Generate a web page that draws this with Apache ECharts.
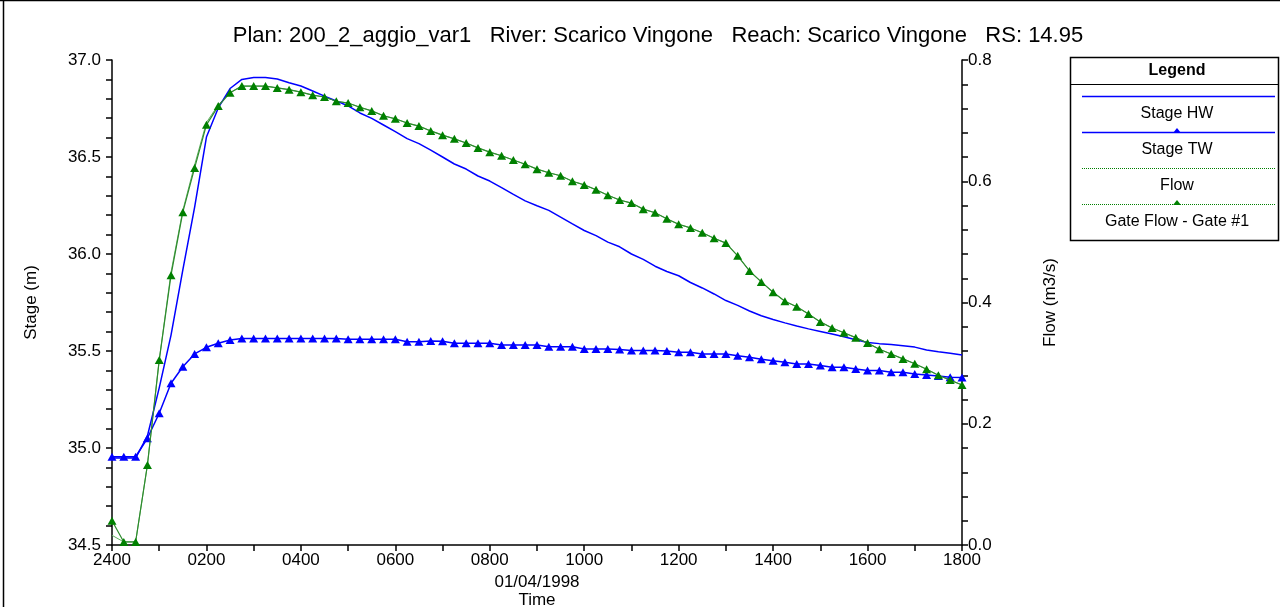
<!DOCTYPE html>
<html><head><meta charset="utf-8">
<script src="https://cdn.jsdelivr.net/npm/echarts@6/dist/echarts.min.js"></script>
<style>html,body{margin:0;padding:0;background:#fff}#c{width:1280px;height:607px}</style>
</head><body><div id="c"></div>
<script>
const hours = [0,0.25,0.5,0.75,1,1.25,1.5,1.75,2,2.25,2.5,2.75,3,3.25,3.5,3.75,4,4.25,4.5,4.75,5,5.25,5.5,5.75,6,6.25,6.5,6.75,7,7.25,7.5,7.75,8,8.25,8.5,8.75,9,9.25,9.5,9.75,10,10.25,10.5,10.75,11,11.25,11.5,11.75,12,12.25,12.5,12.75,13,13.25,13.5,13.75,14,14.25,14.5,14.75,15,15.25,15.5,15.75,16,16.25,16.5,16.75,17,17.25,17.5,17.75,18];
const stageHW = [34.948,34.948,34.948,35.062,35.31,35.582,35.918,36.242,36.603,36.753,36.853,36.900,36.910,36.910,36.902,36.883,36.866,36.840,36.814,36.789,36.763,36.727,36.699,36.665,36.631,36.595,36.569,36.535,36.500,36.464,36.438,36.402,36.376,36.342,36.307,36.274,36.249,36.225,36.190,36.155,36.121,36.095,36.061,36.037,36.000,35.972,35.937,35.910,35.888,35.853,35.825,35.794,35.760,35.735,35.706,35.682,35.662,35.645,35.629,35.614,35.601,35.588,35.573,35.558,35.544,35.538,35.533,35.527,35.520,35.505,35.496,35.488,35.479];
const stageTW = [34.955,34.955,34.955,35.050,35.179,35.334,35.419,35.485,35.519,35.540,35.557,35.565,35.565,35.565,35.565,35.565,35.565,35.565,35.565,35.565,35.560,35.560,35.560,35.560,35.560,35.548,35.548,35.552,35.550,35.540,35.540,35.540,35.540,35.531,35.531,35.531,35.531,35.522,35.522,35.522,35.510,35.510,35.510,35.508,35.502,35.502,35.502,35.500,35.493,35.493,35.485,35.485,35.485,35.476,35.468,35.458,35.450,35.442,35.433,35.433,35.425,35.416,35.416,35.407,35.399,35.399,35.391,35.391,35.382,35.376,35.371,35.365,35.363];
const gateFlow = [0.040,0.005,0.005,0.132,0.305,0.445,0.549,0.622,0.693,0.724,0.746,0.757,0.757,0.757,0.754,0.751,0.747,0.742,0.739,0.732,0.729,0.722,0.716,0.708,0.703,0.696,0.691,0.683,0.676,0.670,0.663,0.655,0.648,0.642,0.635,0.628,0.620,0.614,0.609,0.600,0.594,0.586,0.577,0.569,0.564,0.554,0.548,0.538,0.529,0.523,0.515,0.506,0.498,0.477,0.452,0.434,0.417,0.402,0.393,0.381,0.368,0.358,0.350,0.342,0.333,0.323,0.315,0.307,0.299,0.290,0.280,0.272,0.264];
const flow = [0.016,0.005,0.005,0.132,0.305,0.450,0.552,0.627,0.697,0.726,0.746,0.757,0.757,0.757,0.754,0.751,0.747,0.742,0.739,0.732,0.729,0.722,0.716,0.708,0.703,0.696,0.691,0.683,0.676,0.670,0.663,0.655,0.648,0.642,0.635,0.628,0.620,0.614,0.609,0.600,0.594,0.586,0.577,0.569,0.564,0.554,0.548,0.538,0.529,0.523,0.515,0.506,0.498,0.477,0.452,0.434,0.417,0.402,0.393,0.381,0.368,0.358,0.350,0.342,0.333,0.323,0.315,0.307,0.299,0.290,0.280,0.272,0.264];
const legendNames = ['Stage HW','Stage TW','Flow','Gate Flow - Gate #1'];
const titleText = 'Plan: 200_2_aggio_var1   River: Scarico Vingone   Reach: Scarico Vingone   RS: 14.95';

const FONT = "'Liberation Sans', Arial, sans-serif";
const pair = a => hours.map((h,i)=>[h,a[i]]);
const chart = echarts.init(document.getElementById('c'), null, {renderer:'canvas'});
const axisCommon = {
  axisLine:{show:true,lineStyle:{color:'#000',width:1.5}},
  axisTick:{show:true,length:6,lineStyle:{color:'#000',width:1.5}},
  minorTick:{show:true,splitNumber:5,length:6,lineStyle:{color:'#000',width:1.5}},
  splitLine:{show:false},
  axisLabel:{color:'#000',fontFamily:FONT,fontSize:17},
  nameTextStyle:{color:'#000',fontFamily:FONT,fontSize:17}
};
const legendY = [96,132,168,204];
const legendCols = ['#0000ff','#0000ff','#008000','#008000'];
const graphics = [
  {type:'line',shape:{x1:0,y1:0.5,x2:1280,y2:0.5},style:{stroke:'#000',lineWidth:1.5}},
  {type:'line',shape:{x1:3.5,y1:0,x2:3.5,y2:607},style:{stroke:'#000',lineWidth:1.5}},
  {type:'rect',shape:{x:1070.5,y:57.5,width:208,height:183},style:{fill:'#fff',stroke:'#000',lineWidth:1.5}},
  {type:'line',shape:{x1:1070.5,y1:84.5,x2:1278.5,y2:84.5},style:{stroke:'#000',lineWidth:1}},
  {type:'text',x:1177,y:71,style:{text:'Legend',font:"bold 16px "+FONT,fill:'#000',align:'center',verticalAlign:'middle'}},
  {type:'text',x:537,y:582,style:{text:'01/04/1998',font:"17px "+FONT,fill:'#000',align:'center',verticalAlign:'middle'}}
];
legendNames.forEach((n,i)=>{
  const y = legendY[i];
  graphics.push({type:'line',shape:{x1:1082,y1:y+0.5,x2:1275,y2:y+0.5},style:{stroke:legendCols[i],lineWidth:i<2?1.5:1,lineDash:i<2?null:[1,1]}});
  if(i===1||i===3) graphics.push({type:'polygon',shape:{points:[[1177,y-4],[1181,y+1],[1173,y+1]]},style:{fill:legendCols[i]}});
  graphics.push({type:'text',x:1177,y:y+18,style:{text:n,font:"16px "+FONT,fill:'#000',align:'center',verticalAlign:'middle'}});
});
chart.setOption({
  animation:false,
  backgroundColor:'#fff',
  title:{text:titleText,left:653,top:20,textAlign:'center',textStyle:{fontFamily:FONT,fontSize:22,fontWeight:'normal',color:'#000'}},
  grid:{left:112,right:318,top:60,bottom:62,outerBoundsMode:'none',containLabel:false},
  xAxis:Object.assign({},axisCommon,{type:'value',min:0,max:18,interval:1,
    minorTick:{show:false},
    axisLabel:Object.assign({},axisCommon.axisLabel,{margin:7,formatter:v=> (v%2===0)? (v===0?'2400':String(v*100).padStart(4,'0')):''}),
    name:'Time',nameLocation:'middle',nameGap:47}),
  yAxis:[
    Object.assign({},axisCommon,{type:'value',min:34.5,max:37.0,interval:0.5,position:'left',
      axisLabel:Object.assign({},axisCommon.axisLabel,{margin:11,formatter:v=>v.toFixed(1)}),
      name:'Stage (m)',nameLocation:'middle',nameGap:72,nameRotate:90}),
    Object.assign({},axisCommon,{type:'value',min:0,max:0.8,interval:0.2,position:'right',
      axisLabel:Object.assign({},axisCommon.axisLabel,{margin:6,formatter:v=>v.toFixed(1)}),
      name:'Flow (m3/s)',nameLocation:'middle',nameGap:80,nameRotate:90})
  ],
  graphic:graphics,
  series:[
    {name:legendNames[0],type:'line',yAxisIndex:0,data:pair(stageHW),showSymbol:false,lineStyle:{color:'#0000ff',width:1.5},itemStyle:{color:'#0000ff'},z:3},
    {name:legendNames[1],type:'line',yAxisIndex:0,data:pair(stageTW),symbol:'triangle',symbolSize:[9,8],showSymbol:true,lineStyle:{color:'#0000ff',width:1.5},itemStyle:{color:'#0000ff'},z:3},
    {name:legendNames[2],type:'line',yAxisIndex:1,data:pair(flow),showSymbol:false,lineStyle:{color:'#5fb05f',width:1},itemStyle:{color:'#5fb05f'},z:2},
    {name:legendNames[3],type:'line',yAxisIndex:1,data:pair(gateFlow),symbol:'triangle',symbolSize:[9,8],showSymbol:true,lineStyle:{color:'#2e8b2e',width:1.2},itemStyle:{color:'#008000'},z:4}
  ]
});
</script></body></html>
